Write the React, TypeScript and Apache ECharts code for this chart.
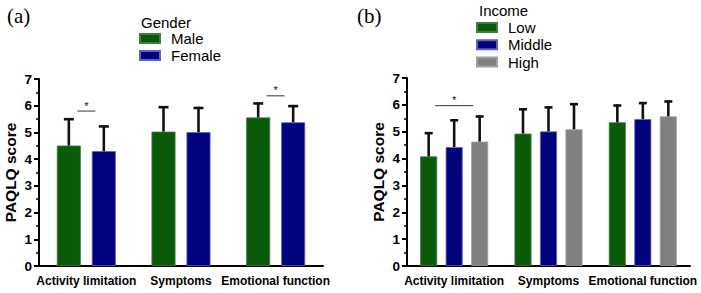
import React, { useEffect, useRef } from "react";
import * as echarts from "echarts";

const categories = ["Activity limitation", "Symptoms", "Emotional function"];
const genderNames = ["Male", "Female"];
const maleMean = [4.51, 5.03, 5.56];
const maleSD = [1.03, 0.96, 0.57];
const femaleMean = [4.3, 5.01, 5.38];
const femaleSD = [0.97, 0.95, 0.65];

const incomeNames = ["Low", "Middle", "High"];
const lowMean = [4.08, 4.93, 5.35];
const lowSD = [0.91, 0.95, 0.67];
const middleMean = [4.43, 5.01, 5.47];
const middleSD = [1.04, 0.94, 0.64];
const highMean = [4.63, 5.09, 5.57];
const highSD = [0.98, 0.98, 0.6];

// significance markers: [category index, y value]
const sigGender = [[0, 5.8], [2, 6.37]];
const sigIncome = [[0, 5.97]];

const yTicks = [0, 7, 1];

const GREEN = "#0a5a0a";
const NAVY = "#02027c";
const GRAY = "#808080";
const FONT = "Liberation Sans, Arial, sans-serif";

export default function App() {
  const ref = useRef<HTMLDivElement>(null);
  useEffect(() => {
    if (!ref.current) return;
    const chart = echarts.init(ref.current, null, { renderer: "svg" });

    const errSeries = (
      name: string,
      means: number[],
      sds: number[],
      grid: number,
      offset: number,
      capHalf: number
    ) => ({
      type: "custom",
      name,
      xAxisIndex: grid,
      yAxisIndex: grid,
      z: 5,
      data: means.map((m, i) => [i, m, m + sds[i]]),
      encode: { x: 0, y: [1, 2] },
      renderItem: (params: any, api: any) => {
        const base = api.coord([api.value(0), api.value(1)]);
        const top = api.coord([api.value(0), api.value(2)]);
        const x = base[0] + offset;
        return {
          type: "group",
          children: [
            {
              type: "line",
              shape: { x1: x, y1: base[1], x2: x, y2: top[1] },
              style: { stroke: "#111", lineWidth: 2.6 },
            },
            {
              type: "line",
              shape: { x1: x - capHalf, y1: top[1] + 1.2, x2: x + capHalf, y2: top[1] + 1.2 },
              style: { stroke: "#111", lineWidth: 2.6 },
            },
          ],
        };
      },
    });

    const sigSeries = (name: string, data: number[][], grid: number, halfW: number) => ({
      type: "custom",
      name,
      xAxisIndex: grid,
      yAxisIndex: grid,
      z: 6,
      data,
      encode: { x: 0, y: 1 },
      renderItem: (params: any, api: any) => {
        const p = api.coord([api.value(0), api.value(1)]);
        return {
          type: "group",
          children: [
            {
              type: "line",
              shape: { x1: p[0] - halfW, y1: p[1], x2: p[0] + halfW, y2: p[1] },
              style: { stroke: "#333", lineWidth: 1 },
            },
            {
              type: "text",
              x: p[0],
              y: p[1],
              style: {
                text: "*",
                fontSize: 11,
                fontFamily: FONT,
                fill: "#111",
                align: "center",
                verticalAlign: "bottom",
              },
            },
          ],
        };
      },
    });

    const yAxis = (nameGap: number) => ({
      type: "value",
      min: yTicks[0],
      max: yTicks[1],
      interval: yTicks[2],
      name: "PAQLQ score",
      nameLocation: "middle",
      nameGap,
      nameTextStyle: { fontSize: 15.5, fontWeight: "bold", color: "#000", fontFamily: FONT },
      axisLine: { show: true, lineStyle: { color: "#000", width: 2 } },
      axisTick: { show: true, length: 5, lineStyle: { color: "#000", width: 2 } },
      minorTick: { show: true, splitNumber: 2, length: 3, lineStyle: { color: "#000", width: 1.5 } },
      splitLine: { show: false },
      axisLabel: { fontSize: 13.5, fontWeight: "bold", color: "#000", margin: 7, fontFamily: FONT },
    });

    const xAxis = (grid: number) => ({
      type: "category",
      gridIndex: grid,
      data: categories,
      axisLine: { lineStyle: { color: "#000", width: 2 } },
      axisTick: { alignWithLabel: true, length: 4, lineStyle: { color: "#000", width: 2 } },
      axisLabel: { fontSize: 12, fontWeight: "bold", color: "#000", margin: 9, interval: 0, fontFamily: FONT },
    });

    const bar = (name: string, data: number[], grid: number, color: string, border: string, bw: number, gap: string) => ({
      type: "bar",
      name,
      xAxisIndex: grid,
      yAxisIndex: grid,
      data,
      barWidth: bw,
      barGap: gap,
      itemStyle: { color, borderColor: border, borderWidth: 0.8 },
    });

    const bwL = 24, gapL = 11;
    const bwR = 17, gapR = 8.5;
    const offL = (i: number) => (bwL + gapL) * (i - 0.5);
    const offR = (i: number) => (bwR + gapR) * (i - 1);

    chart.setOption({
      animation: false,
      textStyle: { fontFamily: FONT },
      grid: [
        { left: 39, right: 378, top: 79, bottom: 27, containLabel: false },
        { left: 407, right: 11, top: 78, bottom: 27, containLabel: false },
      ],
      xAxis: [xAxis(0), xAxis(1)],
      yAxis: [{ ...yAxis(21), gridIndex: 0 }, { ...yAxis(21), gridIndex: 1 }],
      legend: [
        {
          data: genderNames,
          orient: "vertical",
          left: 139,
          top: 30.5,
          padding: 0,
          itemWidth: 20,
          itemHeight: 9,
          itemGap: 1,
          icon: "rect",
          selectedMode: false,
          textStyle: { fontSize: 15, color: "#000", lineHeight: 16, padding: [0, 0, 0, 6], fontFamily: FONT },
        },
        {
          data: incomeNames,
          orient: "vertical",
          left: 476,
          top: 19.5,
          padding: 0,
          itemWidth: 20,
          itemHeight: 9,
          itemGap: 1.3,
          icon: "rect",
          selectedMode: false,
          textStyle: { fontSize: 15, color: "#000", lineHeight: 16, padding: [0, 0, 0, 6], fontFamily: FONT },
        },
      ],
      graphic: [
        { type: "text", left: 7, top: 5, style: { text: "(a)", fontSize: 21, fontFamily: "Liberation Serif, Times New Roman, serif", fill: "#000" } },
        { type: "text", left: 357, top: 5, style: { text: "(b)", fontSize: 21, fontFamily: "Liberation Serif, Times New Roman, serif", fill: "#000" } },
        { type: "text", left: 141, top: 15, style: { text: "Gender", fontSize: 15, fontFamily: FONT, fill: "#000" } },
        { type: "text", left: 479, top: 3, style: { text: "Income", fontSize: 15, fontFamily: FONT, fill: "#000" } },
      ],
      series: [
        bar(genderNames[0], maleMean, 0, GREEN, "#3f7d3f", bwL, (gapL / bwL) * 100 + "%"),
        bar(genderNames[1], femaleMean, 0, NAVY, "#6060c8", bwL, (gapL / bwL) * 100 + "%"),
        bar(incomeNames[0], lowMean, 1, GREEN, "#3f7d3f", bwR, (gapR / bwR) * 100 + "%"),
        bar(incomeNames[1], middleMean, 1, NAVY, "#6060c8", bwR, (gapR / bwR) * 100 + "%"),
        bar(incomeNames[2], highMean, 1, GRAY, "#a0a0a0", bwR, (gapR / bwR) * 100 + "%"),
        errSeries("err-male", maleMean, maleSD, 0, offL(0), 5),
        errSeries("err-female", femaleMean, femaleSD, 0, offL(1), 5),
        errSeries("err-low", lowMean, lowSD, 1, offR(0), 4),
        errSeries("err-middle", middleMean, middleSD, 1, offR(1), 4),
        errSeries("err-high", highMean, highSD, 1, offR(2), 4),
        sigSeries("sig-gender", sigGender, 0, 9),
        sigSeries("sig-income", sigIncome, 1, 19),
      ],
    });
    return () => chart.dispose();
  }, []);
  return (
    <div
      ref={ref}
      style={{ position: "fixed", left: 0, top: 0, width: 701, height: 293, background: "#fff" }}
    />
  );
}
